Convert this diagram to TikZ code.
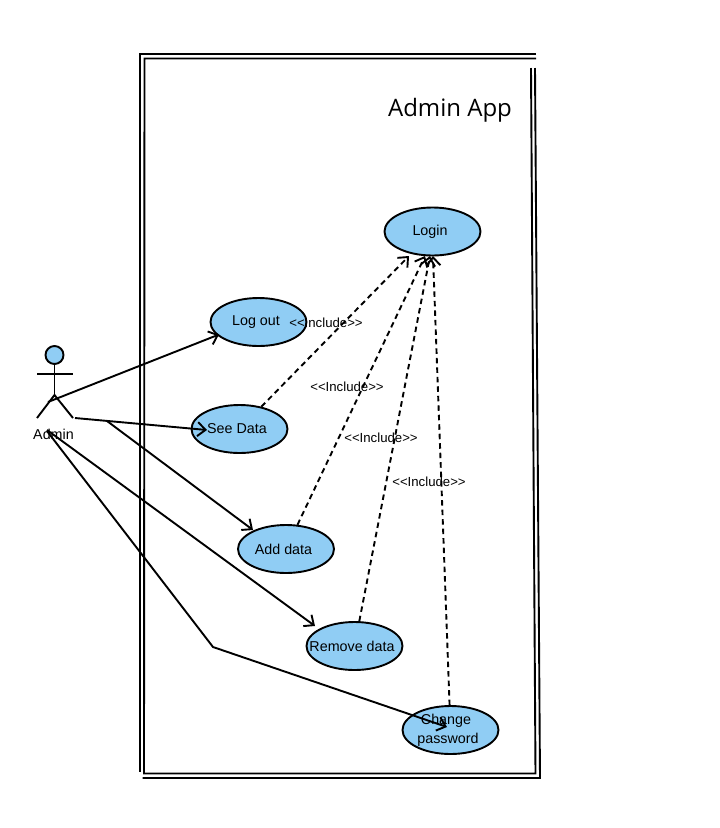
\documentclass[tikz,border=0pt]{standalone}
\usepackage{fontspec}
\setmainfont{Liberation Sans}
\newfontfamily\titlefont{Open Sans}
\usetikzlibrary{arrows.meta, shapes.geometric}
\definecolor{usecasefill}{HTML}{90CDF4}
\tikzset{
    usecase/.style={draw, line width=1.9pt, ellipse, fill=usecasefill, minimum width=96pt, minimum height=48pt, inner ysep=0pt, inner xsep=-15pt, align=center, font=\fontsize{14.3}{19}\selectfont, execute at end node=\hspace*{5pt}},
    tag/.style={inner sep=0pt, font=\fontsize{13.2}{15}\selectfont},
    frame/.style={line width=1.9pt},
    assoc/.style={line width=1.9pt, -{Straight Barb[length=8pt,width=14pt,line width=1.9pt]}},
    incl/.style={assoc, dash pattern=on 5.5pt off 4pt}
}
\begin{document}
\begin{tikzpicture}[x=1pt, y=-1pt]
    \useasboundingbox (0, 0) rectangle (720, 828);

    \draw[frame] (536, 54) -- (140, 54) -- (140, 772);
    \draw[frame] (536, 58.5) -- (144.5, 58.5) -- (144, 773.5) -- (535.5, 773.5) -- (531, 68);
    \draw[frame] (535, 68) -- (540, 778) -- (142.5, 778);
    \node[inner sep=0pt, font=\titlefont\fontsize{24}{26}\selectfont] (title) at (450, 110) {Admin App};

    \node[usecase] (login) at (432.5, 231.5) {Login};
    \node[usecase] (logout) at (258.5, 322) {Log out};
    \node[usecase] (seedata) at (239.5, 429) {See Data};
    \node[usecase] (adddata) at (286, 549) {Add data};
    \node[usecase] (removedata) at (354.5, 646) {Remove data};
    \node[usecase] (changepw) at (450.5, 730) {Change\hspace*{4pt}\\password};

    % actor
    \node[draw, circle, line width=1.9pt, fill=usecasefill, minimum size=18pt, inner sep=0pt] (head) at (54.5, 355) {};
    \coordinate (hip) at (54.5, 395);
    \coordinate (armleft) at (37, 374);
    \coordinate (armright) at (73, 374);
    \coordinate (footleft) at (37, 418);
    \coordinate (footright) at (73, 418);
    \draw[frame] (head) -- (hip);
    \draw[frame] (armleft) -- (armright);
    \draw[frame] (footleft) -- (hip) -- (footright);
    \node[inner sep=0pt, font=\fontsize{14.3}{16}\selectfont] (admin) at (53.5, 434) {Admin};

    % associations
    \coordinate (startlogout) at (48, 402);
    \coordinate (startsee) at (75, 418);
    \coordinate (startadd) at (107, 421);
    \coordinate (startremove) at (47, 430);
    \coordinate (startchange) at (47, 431);
    \coordinate (bend) at (213, 647);
    \coordinate (tiplogout) at (219, 334.5);
    \coordinate (tipsee) at (207, 430);
    \coordinate (tipadd) at (253, 530);
    \coordinate (tipremove) at (315, 626);
    \coordinate (tipchange) at (447, 727);
    \draw[assoc] (startlogout) -- (tiplogout);
    \draw[assoc] (startsee) -- (tipsee);
    \draw[assoc] (startadd) -- (tipadd);
    \draw[assoc] (startremove) -- (tipremove);
    \draw[assoc] (startchange) -- (bend) -- (tipchange);

    % includes
    \coordinate (tipa) at (409, 256);
    \coordinate (tipb) at (425, 256);
    \coordinate (tipc) at (430, 256);
    \coordinate (tipd) at (433, 256);
    \draw[incl] (seedata) -- (tipa);
    \draw[incl] (adddata) -- (tipb);
    \draw[incl] (removedata) -- (tipc);
    \draw[incl] (changepw) -- (tipd);

    \node[tag] (tagone) at (326, 322.5) {{<}{<}Include{>}{>}};
    \node[tag] (tagtwo) at (347, 386.5) {{<}{<}Include{>}{>}};
    \node[tag] (tagthree) at (381, 437.5) {{<}{<}Include{>}{>}};
    \node[tag] (tagfour) at (429, 481.5) {{<}{<}Include{>}{>}};
\end{tikzpicture}
\end{document}
